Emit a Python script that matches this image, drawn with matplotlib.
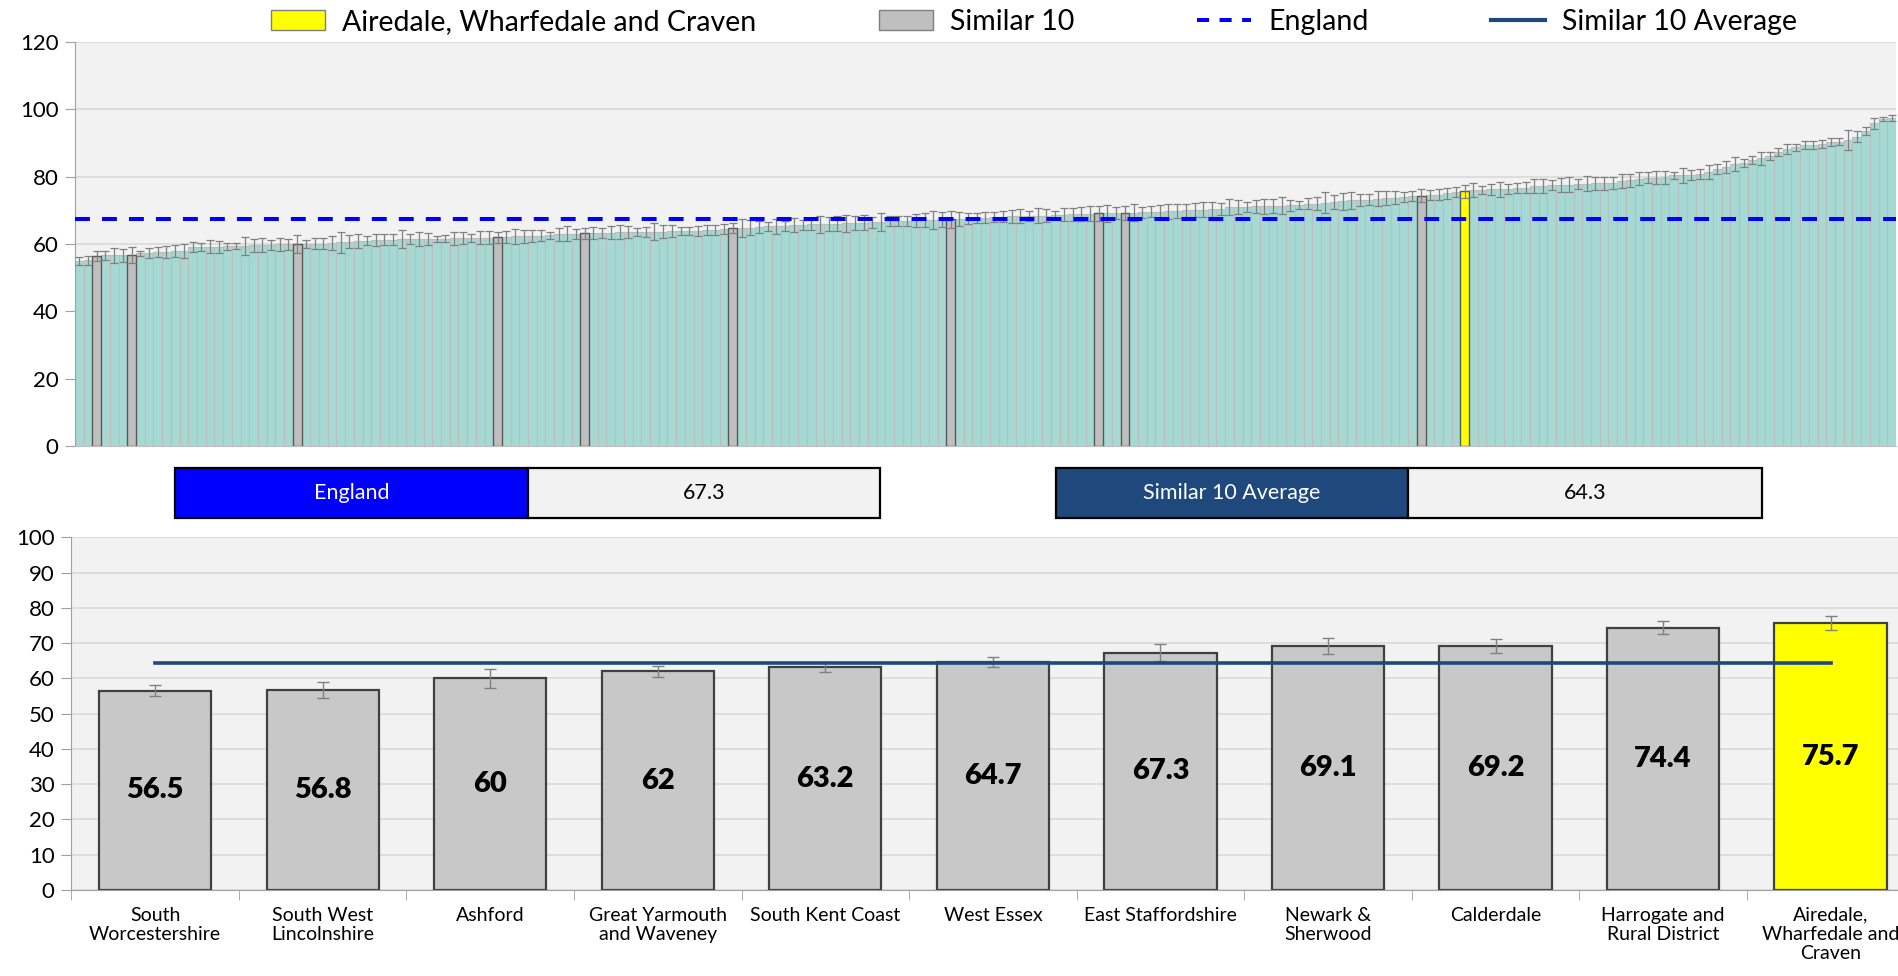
import numpy as np
import matplotlib.pyplot as plt
from matplotlib.patches import Rectangle, Patch
from matplotlib.lines import Line2D

plt.rcParams['font.family'] = ['Lato', 'DejaVu Sans']

# all CCGs, sorted ascending (top chart)
ccg_values = [
    55.0, 55.1, 56.5, 56.6, 56.6, 56.7, 56.8, 57.2, 57.2, 57.5,
    57.5, 57.8, 57.8, 59.0, 59.1, 59.2, 59.2, 59.3, 59.3, 59.4,
    59.6, 59.7, 59.7, 59.9, 59.9, 60.0, 60.0, 60.1, 60.1, 60.2,
    60.5, 60.7, 60.9, 61.0, 61.2, 61.3, 61.3, 61.4, 61.4, 61.5,
    61.5, 61.6, 61.6, 61.7, 61.8, 61.8, 61.9, 61.9, 62.0, 62.1,
    62.3, 62.3, 62.4, 62.5, 62.6, 62.9, 63.0, 63.1, 63.2, 63.3,
    63.4, 63.4, 63.5, 63.5, 63.6, 63.6, 63.7, 63.7, 63.8, 63.8,
    63.8, 63.9, 64.1, 64.2, 64.4, 64.7, 64.7, 64.8, 65.1, 65.2,
    65.3, 65.4, 65.6, 65.7, 65.8, 65.8, 66.0, 66.0, 66.1, 66.2,
    66.3, 66.4, 66.5, 66.7, 66.8, 66.9, 67.0, 67.1, 67.2, 67.2,
    67.3, 67.4, 67.5, 67.6, 67.8, 68.0, 68.1, 68.2, 68.3, 68.3,
    68.4, 68.4, 68.6, 68.7, 68.8, 68.9, 69.0, 69.1, 69.1, 69.2,
    69.2, 69.3, 69.4, 69.6, 69.6, 69.7, 69.8, 70.0, 70.1, 70.2,
    70.3, 70.4, 71.0, 71.0, 71.1, 71.2, 71.2, 71.3, 71.4, 71.5,
    71.7, 72.0, 72.0, 72.3, 72.5, 72.7, 73.0, 73.1, 73.2, 73.5,
    73.7, 73.8, 74.0, 74.2, 74.4, 74.5, 74.7, 75.0, 75.4, 75.7,
    76.0, 76.1, 76.2, 76.3, 76.4, 76.5, 76.7, 77.2, 77.2, 77.5,
    77.5, 77.6, 77.8, 77.9, 78.0, 78.0, 78.1, 78.7, 78.9, 79.4,
    79.7, 79.7, 79.8, 80.4, 80.4, 80.5, 80.9, 81.4, 82.4, 82.9,
    83.7, 84.1, 84.9, 85.4, 86.2, 87.4, 88.1, 88.7, 89.4, 89.4,
    89.6, 90.2, 90.4, 90.9, 91.9, 93.7, 95.8, 97.1, 97.4,
]
ccg_errors = [
    1.2, 1.3, 1.5, 1.3, 2.1, 1.9, 2.3, 0.8, 1.5, 1.5,
    1.8, 1.8, 2.1, 1.5, 1.3, 1.9, 1.8, 1.1, 0.9, 2.7,
    2.0, 2.0, 1.4, 1.9, 1.7, 2.6, 1.3, 1.7, 1.7, 2.1,
    3.1, 1.9, 2.2, 1.3, 1.7, 1.6, 1.7, 2.7, 1.5, 2.0,
    1.7, 0.9, 1.1, 2.0, 1.7, 1.2, 2.0, 2.0, 1.6, 1.7,
    2.2, 1.9, 1.9, 1.7, 1.1, 2.0, 2.2, 1.5, 1.6, 1.7,
    1.5, 2.0, 2.1, 1.7, 1.2, 1.5, 2.5, 2.0, 1.7, 1.2,
    1.2, 1.5, 1.5, 1.5, 1.4, 1.5, 2.7, 2.2, 1.7, 1.2,
    2.2, 1.5, 2.0, 1.5, 1.7, 2.5, 2.0, 2.2, 2.5, 2.0,
    2.2, 1.5, 2.7, 1.5, 1.5, 1.5, 2.0, 2.0, 2.7, 2.2,
    2.5, 2.2, 1.7, 1.5, 1.7, 1.5, 1.7, 2.0, 2.2, 1.5,
    2.2, 2.0, 1.2, 2.0, 2.0, 2.0, 2.2, 2.3, 2.5, 1.7,
    2.0, 2.5, 1.7, 1.7, 2.0, 2.2, 2.0, 2.0, 2.0, 2.2,
    2.2, 1.7, 2.5, 2.2, 1.5, 2.0, 2.2, 2.0, 2.5, 1.7,
    1.2, 1.7, 2.0, 3.2, 2.0, 2.5, 2.5, 1.7, 1.7, 2.2,
    2.0, 2.0, 1.5, 1.5, 1.8, 1.5, 1.5, 1.7, 1.5, 1.9,
    2.0, 1.2, 1.5, 2.2, 1.5, 1.5, 1.7, 2.2, 2.0, 1.5,
    2.2, 2.2, 1.5, 2.2, 2.0, 2.0, 1.7, 2.0, 2.0, 2.0,
    1.7, 2.0, 2.0, 1.0, 2.2, 1.5, 1.5, 2.0, 1.5, 1.7,
    2.0, 1.2, 1.2, 2.0, 1.2, 1.2, 1.5, 1.0, 1.2, 1.2,
    1.2, 1.2, 1.0, 3.0, 1.7, 1.2, 1.7, 0.7, 1.0,
]
similar_pos = [2, 6, 25, 48, 58, 75, 100, 117, 120, 154]
home_pos = 159

# similar 10 + home CCG (bottom chart)
sim_names = ["South\nWorcestershire", "South West\nLincolnshire", "Ashford",
             "Great Yarmouth\nand Waveney", "South Kent Coast", "West Essex",
             "East Staffordshire", "Newark &\nSherwood", "Calderdale",
             "Harrogate and\nRural District", "Airedale,\nWharfedale and\nCraven"]
sim_values = [56.5, 56.8, 60, 62, 63.2, 64.7, 67.3, 69.1, 69.2, 74.4, 75.7]
sim_errors = [1.5, 2.3, 2.6, 1.6, 1.5, 1.4, 2.4, 2.3, 2.0, 1.8, 1.9]

england = 67.3
similar_avg = 64.3

W, H = 1898, 976
fig = plt.figure(figsize=(W / 100, H / 100), dpi=100)

# ---- top chart
ax1 = fig.add_axes([75 / W, 530 / H, 1821 / W, 404 / H])
ax1.set_facecolor('#F2F2F2')
x = np.arange(len(ccg_values))
ax1.bar(x, ccg_values, width=1.0, color='#A6D9D4', edgecolor='#BDBDBD', linewidth=0.8, zorder=2)
hl_pos = similar_pos + [home_pos]
hl_vals = [ccg_values[p] for p in hl_pos]
hl_cols = ['#BFBFBF'] * len(similar_pos) + ['#FFFF00']
ax1.bar(hl_pos, hl_vals, width=1.0, color=hl_cols, edgecolor='#595959', linewidth=1.0, zorder=3)
ax1.errorbar(x, ccg_values, yerr=ccg_errors, fmt='none', ecolor='#808080',
             elinewidth=0.9, capsize=3, capthick=0.9, zorder=4)
ax1.axhline(england, color='#0000FF', lw=2.9, dashes=(3.7, 3.0), zorder=5)
ax1.set_xlim(-0.5, len(ccg_values) - 0.5)
ax1.set_ylim(0, 120)
ax1.set_yticks(range(0, 121, 20))
ax1.set_xticks([])
ax1.grid(axis='y', color='#D9D9D9', lw=1.2)
ax1.set_axisbelow(True)
for s in ['top', 'right']:
    ax1.spines[s].set_visible(False)
ax1.spines['left'].set_color('#A0A0A0')
ax1.spines['bottom'].set_color('#BFBFBF')
ax1.tick_params(axis='y', length=7, color='#A0A0A0', labelsize=16, pad=5)

handles = [Patch(facecolor='#FFFF00', edgecolor='#7F7F7F'),
           Patch(facecolor='#BFBFBF', edgecolor='#7F7F7F'),
           Line2D([], [], color='#0000FF', lw=2.9, dashes=(3.0, 2.6)),
           Line2D([], [], color='#1F497D', lw=3)]
labels = ['Airedale, Wharfedale and Craven', 'Similar 10', 'England', 'Similar 10 Average']
fig.legend(handles, labels, loc='center', bbox_to_anchor=(1034 / W, 1 - 22 / H), ncol=4,
           frameon=False, fontsize=20.5, handlelength=1.9, handleheight=0.75,
           handletextpad=0.6, columnspacing=4.3)

# ---- summary boxes
def box(x0, x1, y0, y1, fc, text, tc):
    fig.patches.append(Rectangle((x0 / W, 1 - y1 / H), (x1 - x0) / W, (y1 - y0) / H,
                                 transform=fig.transFigure, facecolor=fc,
                                 edgecolor='black', lw=1.6))
    fig.text((x0 + x1) / 2 / W, 1 - (y0 + y1) / 2 / H, text, color=tc,
             ha='center', va='center', fontsize=15.5)

box(175, 528, 468, 518, '#0000FF', 'England', 'white')
box(528, 880, 468, 518, '#F2F2F2', f'{england:g}', 'black')
box(1056, 1408, 468, 518, '#1F497D', 'Similar 10 Average', 'white')
box(1408, 1762, 468, 518, '#F2F2F2', f'{similar_avg:g}', 'black')

# ---- bottom chart
ax2 = fig.add_axes([71.4 / W, 86 / H, 1843 / W, 352.7 / H])
ax2.set_facecolor('#F2F2F2')
xs = np.arange(len(sim_values))
cols = ['#C8C8C8'] * (len(sim_values) - 1) + ['#FFFF00']
ax2.bar(xs, sim_values, width=0.67, color=cols, edgecolor='#404040', linewidth=1.6, zorder=2)
ax2.errorbar(xs, sim_values, yerr=sim_errors, fmt='none', ecolor='#808080',
             elinewidth=1.0, capsize=4.5, capthick=1.0, zorder=3)
ax2.plot([xs[0], xs[-1]], [similar_avg, similar_avg], color='#1F497D', lw=2.6, zorder=4)
for xi, v in zip(xs, sim_values):
    ax2.text(xi, v / 2, f'{v:g}', ha='center', va='center', fontsize=21,
             fontweight='heavy', zorder=5)
ax2.set_xlim(-0.5, len(sim_values) - 0.5)
ax2.set_ylim(0, 100)
ax2.set_yticks(range(0, 101, 10))
ax2.set_xticks(xs)
ax2.set_xticklabels(sim_names, fontsize=14, linespacing=1.15)
ax2.set_xticks(np.arange(-0.5, len(sim_values), 1), minor=True)
ax2.tick_params(axis='x', which='major', length=0, pad=12)
ax2.tick_params(axis='x', which='minor', length=7, color='#A0A0A0')
ax2.tick_params(axis='y', length=7, color='#A0A0A0', labelsize=16, pad=5)
ax2.grid(axis='y', color='#D9D9D9', lw=1.2)
ax2.set_axisbelow(True)
for s in ['top', 'right']:
    ax2.spines[s].set_visible(False)
ax2.spines['left'].set_color('#A0A0A0')
ax2.spines['bottom'].set_color('#A0A0A0')

fig.savefig('out.png', dpi=100)
